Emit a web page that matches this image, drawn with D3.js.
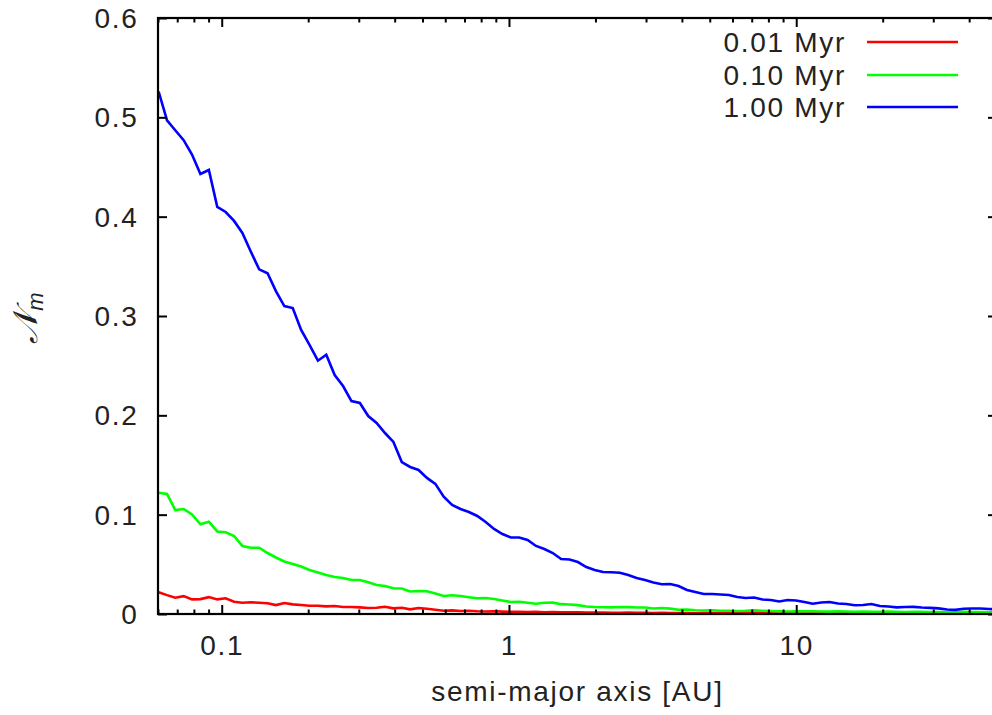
<!DOCTYPE html>
<html lang="en">
<head>
    <meta charset="UTF-8">
    <title>Nm vs semi-major axis</title>
    <script src="https://cdn.jsdelivr.net/npm/d3@7/dist/d3.min.js"></script>
    <style>
        body { margin: 0; background: #fff; }
        #mainsvg { display: block; }
        text { font-family: "Liberation Sans", Arial, sans-serif; fill: #222; }
    </style>
</head>
<body>
    <svg width="992" height="715" id="mainsvg"></svg>
    <script>
        // semi-major axis bins [AU]
        const axisAU = [0.0603,0.0645,0.0689,0.0737,0.0788,0.0843,0.0902,0.0965,0.1032,0.1104,
            0.118,0.1262,0.135,0.1444,0.1544,0.1652,0.1767,0.189,0.2021,0.2162,
            0.2312,0.2473,0.2645,0.2829,0.3026,0.3236,0.3461,0.3702,0.396,0.4235,
            0.4529,0.4844,0.5181,0.5542,0.5927,0.6339,0.678,0.7252,0.7756,0.8296,
            0.8872,0.9489,1.015,1.0855,1.161,1.2417,1.328,1.4204,1.5192,1.6248,
            1.7378,1.8586,1.9879,2.1262,2.274,2.4322,2.6013,2.7823,2.9758,3.1828,
            3.4041,3.6409,3.8941,4.165,4.4545,4.7643,5.0957,5.4502,5.8293,6.2347,
            6.6681,7.132,7.628,8.158,8.726,9.333,9.982,10.676,11.419,12.213,
            13.062,13.971,14.943,15.982,17.094,18.281,19.554,20.914,22.368,23.924,
            25.586,27.367,29.27,31.306,33.483,35.81,38.3,40.96,43.82,46.87,50.12];

        const nm001 = [0.0219,0.019,0.0164,0.018,0.0147,0.015,0.017,0.0147,0.0158,0.0124,
            0.0114,0.0118,0.0114,0.0108,0.009,0.011,0.0097,0.009,0.0083,0.0083,
            0.0077,0.008,0.007,0.007,0.0067,0.006,0.0063,0.0073,0.0057,0.0063,
            0.0047,0.006,0.0053,0.0043,0.0033,
            0.0036,0.0030,0.0033,0.0028,0.0025,0.0027,0.0024,0.0022,0.0023,0.0020,
            0.0021,0.0018,0.0019,0.0017,0.0016,0.0017,0.0015,0.0014,0.0015,0.0013,
            0.0012,0.0014,0.0012,0.0011,0.0010,0.0011,0.0010,0.0009,0.0010,0.0008,
            0.0009,0.0008,0.0007,0.0008,0.0007,0.0006,0.0007,0.0006,0.0006,0.0005,
            0.0006,0.0005,0.0005,0.0004,0.0005,0.0004,0.0004,0.0004,0.0003,0.0004,
            0.0003,0.0003,0.0003,0.0003,0.0002,0.0003,0.0002,0.0002,0.0002,0.0002,
            0.0002,0.0002,0.0001,0.0002,0.0001,0.0001];

        const nm010 = [0.1221,0.1208,0.1047,0.1057,0.1002,0.0903,0.0929,0.0831,0.0823,0.0785,
            0.0685,0.0667,0.0667,0.0614,0.0569,0.0529,0.0503,0.0478,0.0443,0.0418,
            0.0393,0.0372,0.0362,0.0342,0.0342,0.0319,0.0292,0.0282,0.0259,0.0257,
            0.0227,0.0232,0.0229,0.0206,0.0181,0.0189,0.0181,0.0169,0.0158,0.0161,
            0.0151,0.0136,0.0121,0.0123,0.0113,0.0104,0.0113,0.0114,0.0099,0.0096,
            0.0089,0.0075,0.007,0.0068,0.0067,0.007,0.0069,0.0065,0.0065,0.0055,
            0.006,0.0054,0.0043,0.0045,0.0038,0.0035,0.0036,0.0033,0.0033,
            0.0030,0.0032,0.0036,0.0033,0.003,0.0028,0.0025,0.0026,0.0028,0.0027,
            0.0025,0.0024,0.0026,0.0025,0.0023,0.0024,0.0022,0.0021,0.0024,0.0022,
            0.002,0.0021,0.0022,0.002,0.0019,0.0018,0.0019,0.0021,0.002,0.0019,
            0.0018,0.0018];

        const nm100 = [0.526,0.497,0.487,0.477,0.4626,0.443,0.447,0.4098,0.4047,0.3957,
            0.3836,0.365,0.347,0.343,0.325,0.310,0.308,0.286,0.271,0.255,
            0.261,0.2406,0.2295,0.2144,0.2124,0.1993,0.1923,0.1822,0.1732,0.153,
            0.148,0.145,0.137,0.131,0.118,0.1097,0.1057,0.1027,0.0987,0.0926,
            0.0856,0.0805,0.077,0.077,0.0745,0.0685,0.0654,0.0614,0.0554,0.0549,
            0.0523,0.0473,0.0443,0.0423,0.042,0.0416,0.0393,0.0362,0.0342,0.0317,
            0.0299,0.0302,0.0282,0.0242,0.0221,0.0201,0.0201,0.0196,0.0191,0.0171,
            0.0161,0.0166,0.0146,0.0141,0.0126,0.0141,0.0136,0.0121,0.0103,0.0116,
            0.0121,0.0106,0.0101,0.0088,0.009,0.0101,0.008,0.0076,0.0067,0.007,
            0.0072,0.0065,0.0062,0.0057,0.0045,0.0042,0.0053,0.0055,0.0055,0.005,
            0.0047];

        const seriesNames = ["0.01 Myr", "0.10 Myr", "1.00 Myr"];
        const seriesColors = ["#ff0000", "#00ff00", "#0000ff"];
        const seriesValues = [nm001, nm010, nm100];
        const yTicks = [0, 0.1, 0.2, 0.3, 0.4, 0.5, 0.6];
        const xMajor = [0.1, 1, 10];

        const svg = d3.select("svg");
        const margin = {top: 18, right: -5, bottom: 101, left: 158};
        const width = +svg.attr("width");
        const height = +svg.attr("height");

        const x = d3.scaleLog().domain([0.06, 50]).range([margin.left, width - margin.right]);
        const y = d3.scaleLinear().domain([0, 0.6]).range([height - margin.bottom, margin.top]);

        const xMinor = x.ticks().filter(v => !xMajor.some(m => Math.abs(v - m) < 1e-9));
        const fontCss = "28px";

        const plotBottom = y.range()[0], plotTop = y.range()[1];
        const plotLeft = x.range()[0], plotRight = x.range()[1];

        // clip so lines stay inside the frame
        svg.append("clipPath").attr("id", "plotclip").append("rect")
            .attr("x", plotLeft).attr("y", plotTop)
            .attr("width", plotRight - plotLeft).attr("height", plotBottom - plotTop);

        const line = d3.line().x((d, i) => x(axisAU[i])).y(d => y(d));

        svg.append("g").attr("clip-path", "url(#plotclip)")
            .selectAll("path").data(seriesValues).join("path")
            .attr("fill", "none")
            .attr("stroke", (d, i) => seriesColors[i])
            .attr("stroke-width", 2.6)
            .attr("stroke-linejoin", "miter")
            .attr("d", line);

        // axes: ticks pointing inward on all four sides
        function styleAxis(g) {
            g.select(".domain").remove();
            g.selectAll("line").attr("stroke", "#000").attr("stroke-width", 2);
        }

        svg.append("g").attr("transform", `translate(0,${plotBottom})`)
            .call(d3.axisBottom(x).tickValues(xMinor).tickSize(-4.5).tickFormat(""))
            .call(styleAxis);
        svg.append("g").attr("transform", `translate(0,${plotTop})`)
            .call(d3.axisTop(x).tickValues(xMinor).tickSize(-4.5).tickFormat(""))
            .call(styleAxis);
        svg.append("g").attr("transform", `translate(0,${plotTop})`)
            .call(d3.axisTop(x).tickValues(xMajor).tickSize(-9).tickFormat(""))
            .call(styleAxis);

        const xAx = svg.append("g").attr("transform", `translate(0,${plotBottom})`)
            .call(d3.axisBottom(x).tickValues(xMajor).tickSize(-9).tickPadding(21)
                .tickFormat(d => d3.format("~g")(d)))
            .call(styleAxis);
        xAx.selectAll("text").attr("font-size", fontCss).attr("letter-spacing", "1.7px")
            .attr("font-family", "Liberation Sans, Arial, sans-serif").attr("fill", "#222");

        const yAx = svg.append("g").attr("transform", `translate(${plotLeft},0)`)
            .call(d3.axisLeft(y).tickValues(yTicks).tickSize(-9).tickPadding(19.5)
                .tickFormat(d => d3.format("~g")(d)))
            .call(styleAxis);
        yAx.selectAll("text").attr("font-size", fontCss).attr("letter-spacing", "1.7px")
            .attr("dy", "0.34em")
            .attr("font-family", "Liberation Sans, Arial, sans-serif").attr("fill", "#222");

        svg.append("g").attr("transform", `translate(${plotRight},0)`)
            .call(d3.axisRight(y).tickValues(yTicks).tickSize(-9).tickFormat(""))
            .call(styleAxis);

        // frame
        svg.append("rect")
            .attr("x", plotLeft).attr("y", plotTop)
            .attr("width", plotRight - plotLeft).attr("height", plotBottom - plotTop)
            .attr("fill", "none").attr("stroke", "#000").attr("stroke-width", 2.2);

        // axis titles
        svg.append("text")
            .attr("x", (plotLeft + plotRight) / 2).attr("y", 701)
            .attr("text-anchor", "middle")
            .attr("font-size", fontCss).attr("letter-spacing", "1.7px")
            .text("semi-major axis [AU]");

        const ylab = svg.append("text")
            .attr("transform", "translate(37,318) rotate(-90)")
            .attr("text-anchor", "middle")
            .attr("font-family", "DejaVu Serif, serif");
        ylab.append("tspan").attr("font-size", "34px").attr("font-style", "italic").text("𝒩");
        ylab.append("tspan").attr("font-size", "22px").attr("font-style", "italic").attr("dy", "6").text("m");

        // legend
        const legend = svg.append("g");
        const legendY = [42, 75, 107];
        seriesNames.forEach((name, i) => {
            legend.append("text")
                .attr("x", 846).attr("y", legendY[i] + 9.5)
                .attr("text-anchor", "end")
                .attr("font-size", fontCss).attr("letter-spacing", "1.7px")
                .text(name);
            legend.append("line")
                .attr("x1", 867).attr("x2", 958)
                .attr("y1", legendY[i]).attr("y2", legendY[i])
                .attr("stroke", seriesColors[i]).attr("stroke-width", 2.6);
        });
    </script>
</body>
</html>
